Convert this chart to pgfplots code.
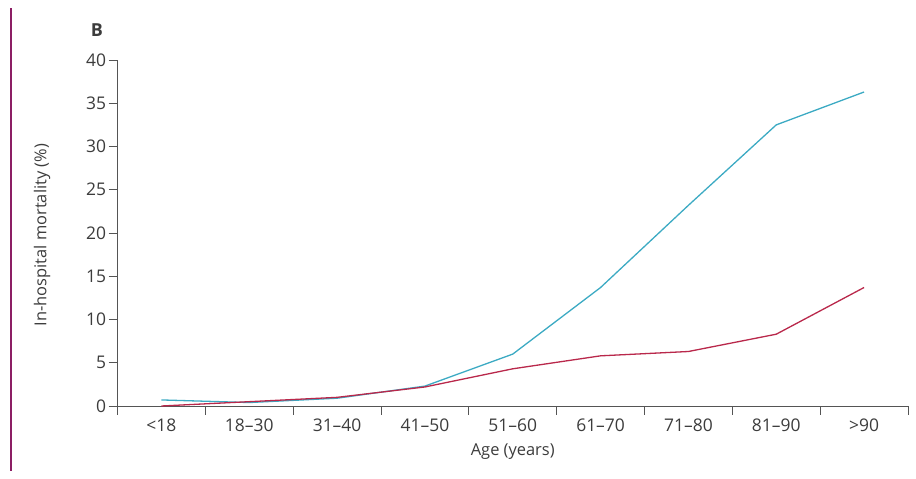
\documentclass[border=0pt]{standalone}
\usepackage{fontspec}
\setmainfont{Open Sans}
\usepackage{pgfplots}
\pgfplotsset{compat=1.18}

\definecolor{lineblue}{RGB}{60,170,195}
\definecolor{linered}{RGB}{185,40,75}
\definecolor{axisgray}{RGB}{85,85,85}
\definecolor{textgray}{RGB}{60,60,60}
\definecolor{framepurple}{RGB}{140,30,100}

% mortality by age group, two series
\pgfplotstableread{
x  blue  red
0  0.7   0.0
1  0.4   0.5
2  0.9   1.0
3  2.3   2.2
4  6.0   4.3
5  13.7  5.8
6  23.2  6.3
7  32.5  8.3
8  36.3  13.7
}\mortality

\begin{document}
\begin{tikzpicture}
\path[use as bounding box] (0,0) rectangle (916bp,479bp);
\draw[framepurple, line width=1.4bp] (11bp,8bp) -- (11bp,471bp);

\begin{axis}[
    at={(117.5bp,73bp)},
    anchor=south west,
    scale only axis,
    width=790.5bp,
    height=346bp,
    xmin=-0.5, xmax=8.5,
    ymin=0, ymax=40,
    axis lines=left,
    axis line style={-, axisgray, line width=0.9bp},
    tick style={axisgray, line width=0.9bp},
    tick align=outside,
    major tick length=9bp,
    xtick={-0.5,0.5,1.5,2.5,3.5,4.5,5.5,6.5,7.5,8.5},
    x tick label as interval,
    xticklabels={<18,18--30,31--40,41--50,51--60,61--70,71--80,81--90,>90},
    ytick={0,5,...,40},
    /pgf/number format/assume math mode=true,
    tick label style={font=\fontsize{17.5}{20}\selectfont, text=textgray},
    yticklabel style={xshift=1bp},
    xlabel={Age (years)},
    ylabel={In-hospital mortality (\%)},
    label style={font=\fontsize{16.5}{19}\selectfont, text=textgray},
    xlabel style={at={(axis description cs:0.5,-0.133)}, anchor=center},
    ylabel style={at={(axis description cs:-0.0955,0.494)}, anchor=center},
    clip=false,
]
\addplot[lineblue, line width=1.3bp] table[x=x, y=blue] {\mortality};
\addplot[linered, line width=1.3bp] table[x=x, y=red] {\mortality};
\end{axis}

\node[font=\fontsize{18}{21}\selectfont\bfseries, text=textgray] at (97bp,449bp) {B};
\end{tikzpicture}
\end{document}
